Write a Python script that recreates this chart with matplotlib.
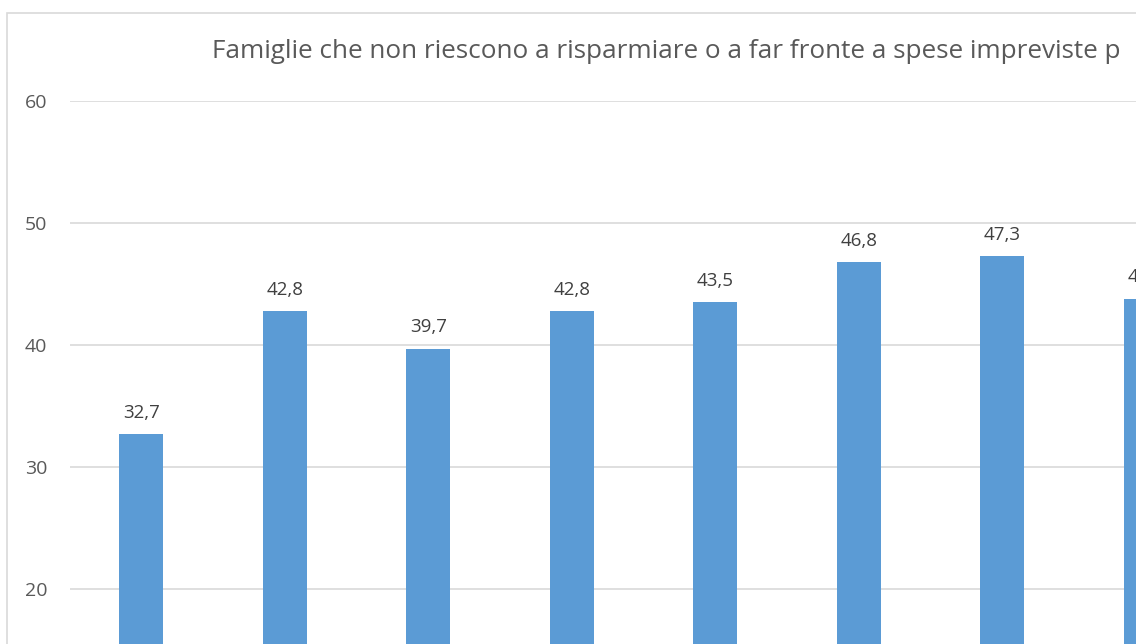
import matplotlib.pyplot as plt
from matplotlib.patches import Rectangle

# dati (l'ultima barra è tagliata, valore stimato)
valori = [32.7, 42.8, 39.7, 42.8, 43.5, 46.8, 47.3, 43.8]
etichette = ["32,7", "42,8", "39,7", "42,8", "43,5", "46,8", "47,3", "43,8"]
yticks = [20, 30, 40, 50, 60]
titolo = "Famiglie che non riescono a risparmiare o a far fronte a spese impreviste p"

plt.rcParams['font.family'] = ['Open Sans', 'DejaVu Sans']

W, H = 1136, 644
fig = plt.figure(figsize=(W / 100, H / 100), dpi=100)

# bordo del grafico (l'immagine è ritagliata a destra e in basso)
fig.patches.append(Rectangle((7 / W, -0.1), 1.2, 1 - 13 / H + 0.1,
                             transform=fig.transFigure, fill=False,
                             edgecolor='#D9D9D9', linewidth=1.2))

# area del grafico in pixel: x da 69.5, y 60 -> 101px, 12.2 px per unità
left = 69.5 / W
top = (H - 101) / H
ax = fig.add_axes([left, 0, 1 - left, top])
passo = 143.5
ax.set_xlim(-0.5, -0.5 + (W - 69.5) / passo)
ax.set_ylim(60 - (H - 101) / 12.2, 60)

x = list(range(len(valori)))
ax.bar(x, valori, width=0.31, color='#5B9BD5', zorder=3)
for xi, v, s in zip(x, valori, etichette):
    ax.text(xi, v + 1.0, s, ha='center', va='bottom', fontsize=13.5,
            color='#404040', clip_on=False)

ax.set_yticks(yticks)
ax.yaxis.grid(True, color='#D9D9D9', linewidth=1.2, zorder=0)
ax.tick_params(axis='y', length=0, pad=16, labelsize=14, labelcolor='#595959')
ax.tick_params(axis='x', length=0, labelbottom=False)
for sp in ax.spines.values():
    sp.set_visible(False)

fig.text(212 / W, (H - 52) / H, titolo, ha='left', va='center',
         fontsize=18.8, color='#595959')

fig.savefig('out.png', dpi=100)
